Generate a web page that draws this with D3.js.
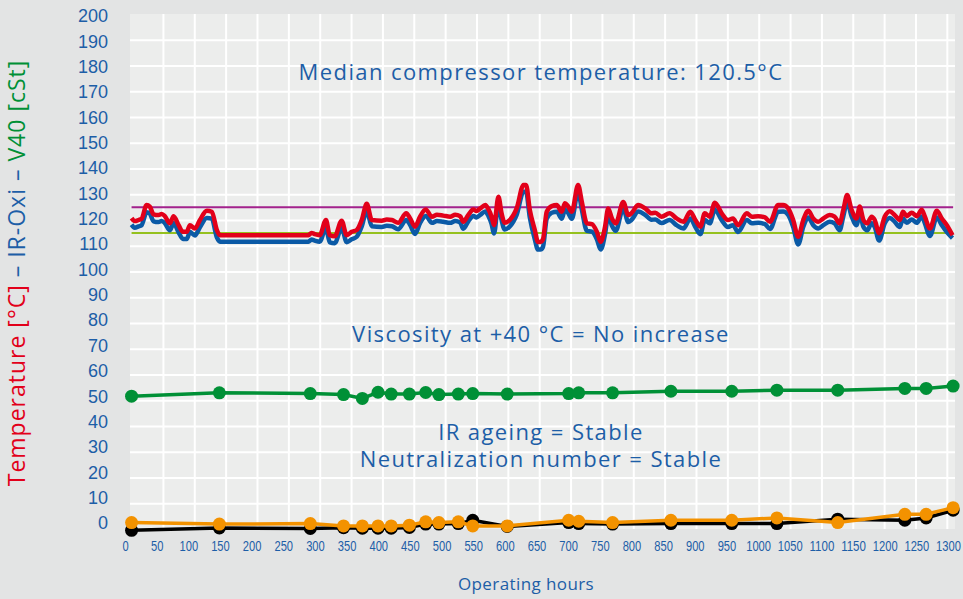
<!DOCTYPE html>
<html>
<head>
<meta charset="utf-8">
<script src="https://cdn.jsdelivr.net/npm/d3@7"></script>
<style>
  body { margin: 0; background: #e3e4e4; }
  svg { display: block; font-family: "Open Sans", sans-serif; }
  .grid line { stroke: #fff; stroke-width: 2; }
  .grid .domain { display: none; }
  .ticks .domain { display: none; }
  .ticks text { fill: #1d5ea7; }
</style>
</head>
<body>
<div id="chart"></div>
<script>
// temperature trace (hours, red = compressor temp, blue = IR-Oxi trace)
const tempHours = [0,5,11,16,24,29,35,43,48,53,61,67,75,82,88,93,101,109,120,128,136,141,282,287,292,300,310,316,324,335,343,351,359,367,375,383,399,407,415,425,438,444,452,460,469,479,487,497,508,516,524,529,537,545,550,556,564,569,574,578,585,590,595,603,614,625,629,635,643,648,652,656,662,670,678,686,691,696,702,712,718,726,734,742,748,755,760,766,772,784,792,797,808,819,829,835,845,858,869,880,891,899,907,914,922,930,941,951,959,967,981,989,999,1010,1018,1031,1039,1047,1055,1063,1071,1079,1087,1095,1103,1113,1121,1129,1135,1141,1148,1156,1161,1167,1173,1180,1185,1192,1201,1209,1217,1225,1230,1236,1244,1252,1260,1265,1273,1284,1292,1300,1309];
const tempRed = [120.7,119.6,120.0,120.5,125.8,125.2,122.2,121.9,122.3,121.5,118.7,121.5,118.0,115.4,115.4,118.0,116.7,120.0,123.6,123.2,116.1,114.1,114.1,115.0,114.5,114.1,120.0,114.1,113.7,119.7,114.1,115.4,116.1,120.0,126.3,120.0,119.7,120.2,120.0,118.9,122.6,120.7,117.4,121.3,124.1,121.3,122.0,121.7,121.3,122.0,121.5,119.3,122.0,124.1,123.5,124.5,125.8,124.2,121.3,118.0,129.0,122.6,118.9,120.0,124.5,133.6,133.6,123.9,116.1,111.5,111.5,112.5,123.2,125.4,125.8,123.2,126.5,125.4,123.2,133.6,127.0,118.7,118.4,115.4,111.5,117.4,124.5,120.6,118.7,127.0,121.9,122.6,125.8,124.5,122.6,122.8,121.3,122.6,120.6,119.3,123.2,120.0,117.4,122.6,121.3,126.7,122.6,120.0,120.6,118.0,122.6,121.3,121.5,121.0,119.3,125.8,125.8,124.5,120.0,113.5,120.0,123.6,120.6,119.3,120.6,121.9,121.3,118.7,124.0,129.7,124.0,120.6,125.2,120.0,118.7,121.3,120.0,114.9,121.3,123.4,121.9,120.0,123.2,121.5,122.8,121.5,124.0,121.3,116.7,123.6,120.6,118.0,114.1];
const tempBlue = [118.2,117.0,117.5,118.0,123.0,122.5,119.5,119.2,119.6,118.8,116.0,118.8,115.2,112.6,112.6,115.3,114.0,117.2,120.8,120.5,113.3,111.6,111.6,112.4,112.0,111.6,117.0,111.3,111.0,117.0,111.4,112.5,113.5,117.5,123.5,117.6,117.3,117.8,117.6,116.4,120.0,118.2,114.6,118.8,121.6,118.9,119.6,119.3,118.9,119.6,119.0,116.6,119.5,121.6,121.0,122.0,123.3,121.6,118.5,114.8,126.5,120.0,116.3,117.5,122.0,131.0,131.0,121.0,112.5,108.5,108.5,109.5,120.5,122.8,123.2,120.5,124.0,122.8,120.5,131.0,124.0,115.8,115.5,112.5,108.5,114.5,121.8,117.8,115.8,124.5,119.2,120.0,123.3,122.0,120.1,120.2,118.8,120.0,118.0,116.7,120.6,117.3,114.5,120.0,118.7,124.0,120.0,117.3,118.0,115.3,120.0,118.7,118.9,118.4,116.5,123.2,123.3,122.0,117.3,110.5,117.3,121.0,118.0,116.7,118.0,119.3,118.7,116.0,121.5,127.0,121.5,118.0,122.6,117.3,116.0,118.7,117.3,112.0,118.7,120.8,119.3,117.3,120.6,118.9,120.2,118.9,121.4,118.7,113.8,121.0,118.0,115.3,113.0];

// limit lines
const limitUpper = 125;
const limitLower = 115;
const limitSpan = [0, 1310];

// oil samples
const sampleHours = [0,140,285,338,368,393,414,443,469,490,521,544,599,697,713,767,860,957,1029,1126,1233,1267,1310];
const v40 = [51.6,52.9,52.6,52.2,50.7,53.1,52.4,52.4,53.0,52.2,52.4,52.6,52.4,52.6,52.9,52.9,53.5,53.5,53.9,53.9,54.6,54.6,55.5];
const irAgeing = [2.5,1.9,2.1,1.2,1.2,1.2,1.2,1.5,2.8,2.5,2.8,1.2,1.2,3.4,3.0,2.5,3.4,3.4,4.3,2.5,5.7,5.7,8.3];
const neutNumber = [-0.5,0.4,0.2,0.5,0.3,0.3,0.3,0.6,1.9,1.9,2.1,3.4,1.0,2.5,2.1,1.9,2.1,2.1,2.1,3.8,3.4,4.3,7.3];

const xTicks = d3.range(0, 1301, 50);
const yTicks = d3.range(0, 201, 10);

const notes = [
  {text: "Median compressor temperature: 120.5°C", v: 174.5},
  {text: "Viscosity at +40 °C = No increase", v: 72.5},
  {text: "IR ageing = Stable", v: 34.6},
  {text: "Neutralization number = Stable", v: 24.1}
];

const width = 963, height = 599;
const plot = {left: 130, right: 955, top: 14, bottom: 529};

const svg = d3.select('#chart').append('svg')
    .attr('width', width)
    .attr('height', height);

svg.append('rect')
    .attr('width', width).attr('height', height)
    .attr('fill', '#e3e4e4');

svg.append('rect')
    .attr('x', plot.left).attr('y', plot.top)
    .attr('width', plot.right - plot.left)
    .attr('height', plot.bottom - plot.top)
    .attr('fill', '#ecedec');

const x = d3.scaleLinear().domain([-2.5, 1313]).range([plot.left, plot.right]);
const y = d3.scaleLinear().domain([0, 200]).range([plot.bottom, plot.top]);
// tick labels sit on a slightly tighter spacing than the grid in the original
const xLabel = d3.scaleLinear().domain([0, 1300]).range([125, 948]);
const yLabel = d3.scaleLinear().domain([0, 200]).range([523, 16]);

// grid
svg.append('g').attr('class', 'grid')
    .attr('transform', 'translate(' + plot.left + ',0)')
    .call(d3.axisLeft(y).tickValues(yTicks.filter(d => d > 0 && d < 200))
        .tickSize(-(plot.right - plot.left)).tickFormat(''));

svg.append('g').attr('class', 'grid')
    .attr('transform', 'translate(0,' + plot.bottom + ')')
    .call(d3.axisBottom(x).tickValues(xTicks.filter(d => d > 0))
        .tickSize(-(plot.bottom - plot.top)).tickFormat(''));

// axis labels
svg.append('g').attr('class', 'ticks')
    .attr('transform', 'translate(108,0)')
    .call(d3.axisLeft(yLabel).tickValues(yTicks).tickSize(0).tickPadding(0))
    .selectAll('text')
    .style('font-size', '18px');

// condensed labels on the hours axis
svg.append('g').attr('class', 'ticks')
    .attr('transform', 'translate(0,541)')
    .call(d3.axisBottom(xLabel).tickValues(xTicks).tickFormat(d3.format('d'))
        .tickSize(0).tickPadding(0))
    .selectAll('text')
    .style('font-size', '14px')
    .attr('textLength', d => String(d).length * 6.2)
    .attr('lengthAdjust', 'spacingAndGlyphs');

svg.append('text')
    .attr('x', 526).attr('y', 590)
    .attr('text-anchor', 'middle')
    .attr('fill', '#1d5ea7')
    .style('font-size', '17px')
    .style('letter-spacing', '0.4px')
    .text('Operating hours');

const ytitle = svg.append('text')
    .attr('transform', 'translate(25,273) rotate(-90)')
    .attr('text-anchor', 'middle')
    .style('font-size', '23px')
    .style('letter-spacing', '1px');
ytitle.append('tspan').attr('fill', '#e2001a').text('Temperature [°C]');
ytitle.append('tspan').attr('fill', '#1d5ea7').text(' – IR-Oxi – ');
ytitle.append('tspan').attr('fill', '#009036').text('V40 [cSt]');

// limit lines
svg.append('line')
    .attr('x1', x(limitSpan[0])).attr('x2', x(limitSpan[1]))
    .attr('y1', y(limitUpper)).attr('y2', y(limitUpper))
    .attr('stroke', '#a3228d').attr('stroke-width', 2);
svg.append('line')
    .attr('x1', x(limitSpan[0])).attr('x2', x(limitSpan[1]))
    .attr('y1', y(limitLower)).attr('y2', y(limitLower))
    .attr('stroke', '#95c11f').attr('stroke-width', 2);

// temperature traces
function trace(vals, color, w) {
  const line = d3.line()
      .x((d, i) => x(tempHours[i]))
      .y(d => y(d))
      .curve(d3.curveMonotoneX);
  svg.append('path')
      .datum(vals)
      .attr('d', line)
      .attr('fill', 'none')
      .attr('stroke', color)
      .attr('stroke-width', w)
      .attr('stroke-linejoin', 'round');
}
trace(tempBlue, '#0b5aa6', 4.5);
trace(tempRed, '#e2001a', 4.5);

// sample series with dots
function samples(vals, color) {
  const line = d3.line()
      .x((d, i) => x(sampleHours[i]))
      .y(d => y(d));
  svg.append('path')
      .datum(vals)
      .attr('d', line)
      .attr('fill', 'none')
      .attr('stroke', color)
      .attr('stroke-width', 3.5);
  svg.append('g').selectAll('circle')
      .data(vals)
      .enter()
      .append('circle')
      .attr('cx', (d, i) => x(sampleHours[i]))
      .attr('cy', d => y(d))
      .attr('r', 6.5)
      .attr('fill', color);
}
samples(v40, '#009036');
samples(neutNumber, '#000000');
samples(irAgeing, '#f39200');

// annotations
svg.append('g').selectAll('text')
    .data(notes)
    .enter()
    .append('text')
    .attr('x', 541)
    .attr('y', d => y(d.v))
    .attr('text-anchor', 'middle')
    .attr('fill', '#1d5ea7')
    .style('font-size', '22px')
    .style('letter-spacing', '1.4px')
    .text(d => d.text);
</script>
</body>
</html>
